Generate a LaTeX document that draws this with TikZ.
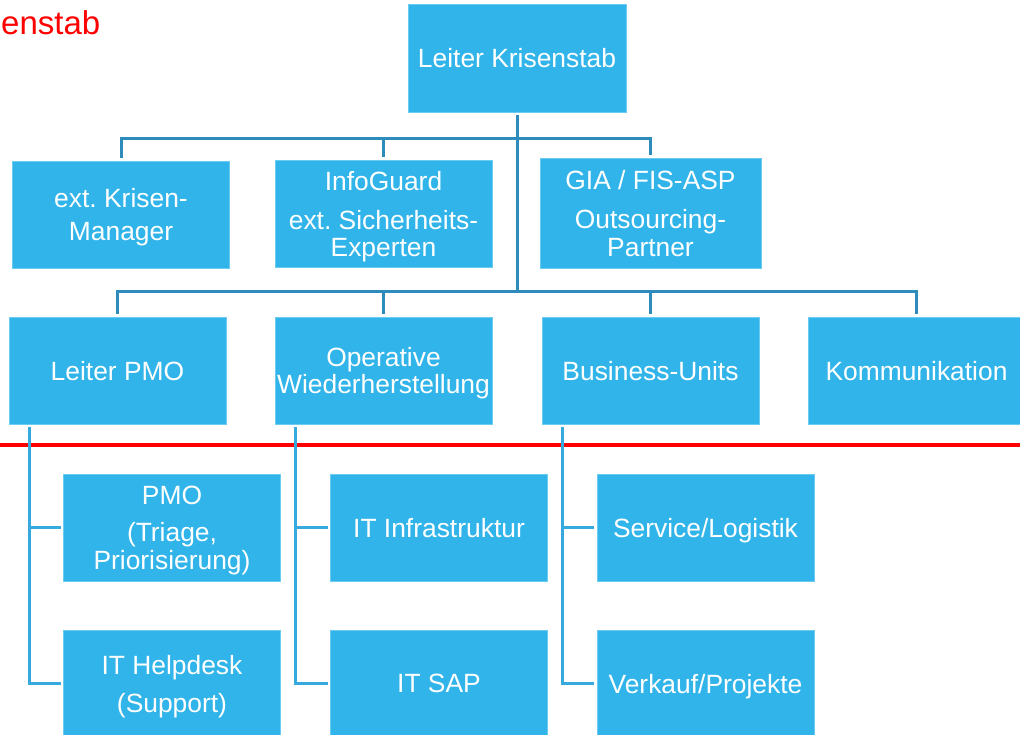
\documentclass[tikz,border=0pt]{standalone}
\usepackage{fontspec}
\setmainfont{Liberation Sans}
\frenchspacing
\definecolor{boxblue}{HTML}{31B4E9}
\definecolor{boxedge}{HTML}{6CCBF0}
\definecolor{treeline}{HTML}{2E8CBD}
\definecolor{subline}{HTML}{36A9DE}
\definecolor{titlered}{HTML}{FF0000}
\begin{document}
\begin{tikzpicture}[x=1pt,y=-1pt,
  orgbox/.style={rectangle, fill=boxblue, draw=boxedge, line width=0.8pt,
    minimum width=217pt, minimum height=107pt, inner sep=0pt, outer sep=3pt,
    text depth=0pt, text=white, align=center,
    font=\fontsize{26.4}{27}\selectfont\frenchspacing},
  tree/.style={draw=treeline, line width=3pt},
  sub/.style={draw=subline, line width=3pt},
  rule/.style={draw=titlered, line width=4pt}]
\useasboundingbox (0,0) rectangle (1020,735);

% heading (runs off the left edge)
\node[anchor=base east, inner sep=0pt, text=titlered,
  font=\fontsize{33}{36}\selectfont] (title) at (100.5,35) {enstab};

% top of the staff
\node[orgbox, minimum width=218pt, minimum height=108pt] (chief) at (517,58) {Leiter Krisenstab};

% external advisers
\node[orgbox] (ext) at (121,214.5) {ext. Krisen-\\[6pt]Manager};
\node[orgbox] (ig) at (383.5,213.5) {InfoGuard\\[12pt]ext. Sicherheits-\\Experten};
\node[orgbox, minimum width=221pt, minimum height=110pt] (gia) at (650.5,213)
  {GIA / FIS-ASP\\[12pt]Outsourcing-\\[1pt]Partner};

% functional leads
\node[orgbox] (pmo) at (117.5,370.5) {Leiter PMO};
\node[orgbox] (ops) at (383.5,370.5) {Operative\\Wiederherstellung};
\node[orgbox] (bu) at (650.5,370.5) {Business-Units};
\node[orgbox] (com) at (916.5,370.5) {Kommunikation};

% teams
\node[orgbox] (triage) at (172,527.5) {PMO\\[10pt](Triage,\\[1pt]Priorisierung)};
\node[orgbox] (help) at (172,683.5) {IT Helpdesk\\[11pt](Support)};
\node[orgbox] (infra) at (439,527.5) {IT Infrastruktur};
\node[orgbox] (sap) at (439,683.5) {IT SAP};
\node[orgbox] (svc) at (705.5,527.5) {Service/Logistik};
\node[orgbox] (sales) at (705.5,683.5) {Verkauf/Projekte};

% connectors of the upper tree
\coordinate (topbus) at (517,139);
\coordinate (midbus) at (517,292);
\draw[tree] (chief.south) -- (midbus);
\draw[tree] (ext.north) |- (topbus) -| (gia.north);
\draw[tree] (ig.north) -- (ig.north |- topbus);
\draw[tree] (pmo.north) |- (midbus) -| (com.north);
\draw[tree] (ops.north) -- (ops.north |- midbus);
\draw[tree] (bu.north) -- (bu.north |- midbus);

% dividing rule
\coordinate (ruleL) at (0,445);
\coordinate (ruleR) at (1020,445);
\draw[rule] (ruleL) -- (ruleR);

% connectors to the teams
\draw[sub] (pmo.south west) ++(23,0) |- (triage.west);
\draw[sub] (pmo.south west) ++(23,0) |- (help.west);
\draw[sub] (ops.south west) ++(23,0) |- (infra.west);
\draw[sub] (ops.south west) ++(23,0) |- (sap.west);
\draw[sub] (bu.south west) ++(23,0) |- (svc.west);
\draw[sub] (bu.south west) ++(23,0) |- (sales.west);
\end{tikzpicture}
\end{document}
